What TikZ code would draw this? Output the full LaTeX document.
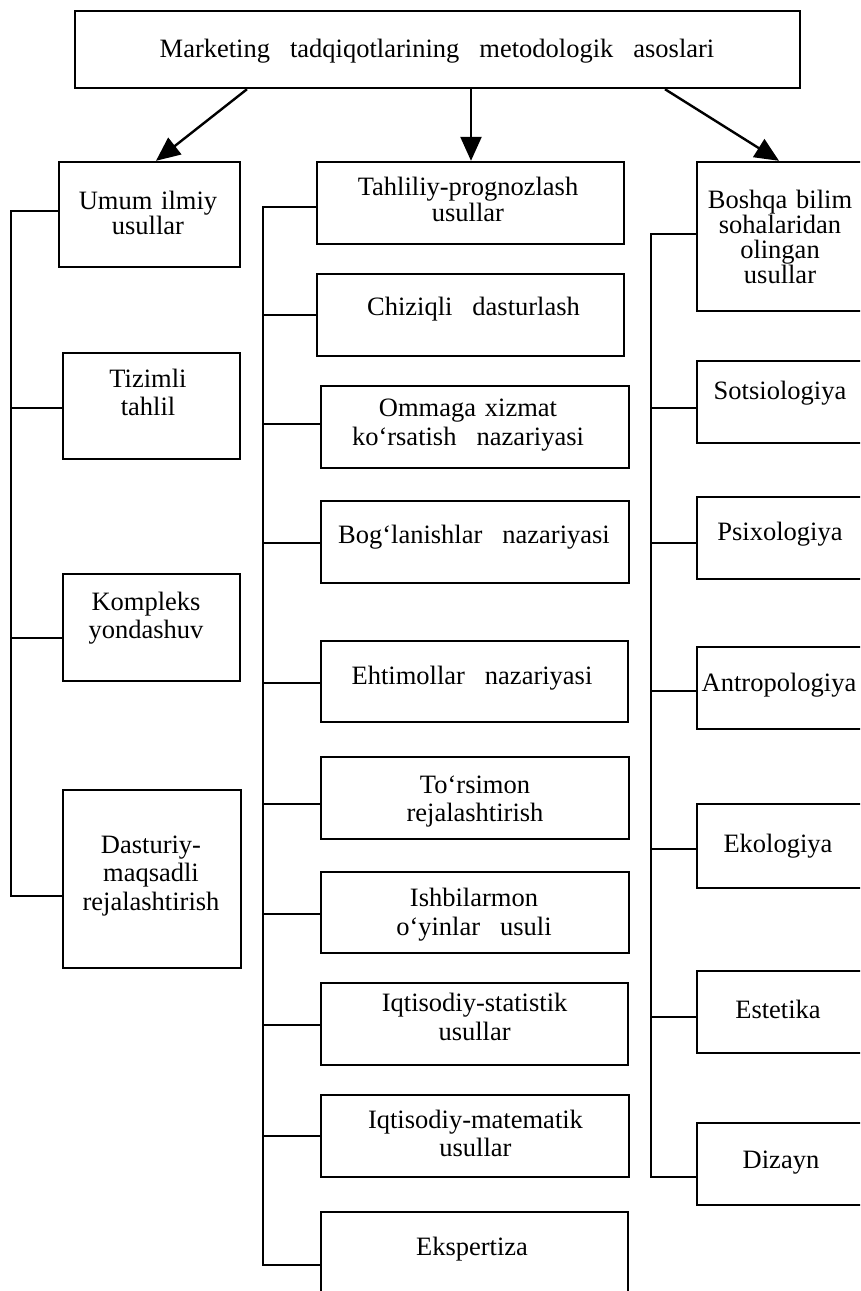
\documentclass[tikz,border=0pt]{standalone}
\usepackage{fontspec}
\setmainfont{Liberation Serif}
\usetikzlibrary{arrows.meta}
\newcommand{\wg}{\hspace{20pt}}
\begin{document}
\begin{tikzpicture}[x=1pt,y=-1pt,
  bx/.style={draw, line width=2.4pt, inner sep=0pt, rectangle},
  ln/.style={line width=2.4pt},
  arr/.style={line width=2.4pt, -{Triangle[length=24pt,width=21pt]}},
  txt/.style={inner sep=0pt, anchor=base, align=center, text width=320pt, font=\fontsize{26.5}{28.5}\selectfont},
  txs/.style={txt, font=\fontsize{26.5}{25}\selectfont},
]
\useasboundingbox (0,0) rectangle (860,1291);
\clip (0,0) rectangle (860,1291);

% boxes
\node[bx, minimum width=725pt, minimum height=77pt] (top) at (437.5,49.5) {};
% left column
\node[bx, minimum width=181pt, minimum height=105pt] (umum) at (149.5,214.5) {};
\node[bx, minimum width=177pt, minimum height=106pt] (tiz) at (151.5,406) {};
\node[bx, minimum width=177pt, minimum height=107pt] (komp) at (151.5,627.5) {};
\node[bx, minimum width=178pt, minimum height=178pt] (dast) at (152,879) {};
% middle column
\node[bx, minimum width=307pt, minimum height=82pt] (tah) at (470.5,203) {};
\node[bx, minimum width=307pt, minimum height=82pt] (chiz) at (470.5,315) {};
\node[bx, minimum width=308pt, minimum height=82pt] (omm) at (475,427) {};
\node[bx, minimum width=308pt, minimum height=82pt] (bog) at (475,542) {};
\node[bx, minimum width=307pt, minimum height=81pt] (eht) at (474.5,681.5) {};
\node[bx, minimum width=308pt, minimum height=82pt] (tor) at (475,798) {};
\node[bx, minimum width=308pt, minimum height=81pt] (ish) at (475,912.5) {};
\node[bx, minimum width=307pt, minimum height=82pt] (iqs) at (474.5,1024) {};
\node[bx, minimum width=308pt, minimum height=82pt] (iqm) at (475,1136) {};
\node[bx, minimum width=307pt, minimum height=98pt] (eks) at (474.5,1261) {};
% right column
\node[bx, minimum width=183pt, minimum height=149pt] (bosh) at (788.5,236.5) {};
\node[bx, minimum width=183pt, minimum height=82pt] (sots) at (788.5,402) {};
\node[bx, minimum width=183pt, minimum height=82pt] (psix) at (788.5,538) {};
\node[bx, minimum width=183pt, minimum height=82pt] (antr) at (788.5,688) {};
\node[bx, minimum width=183pt, minimum height=84pt] (ekol) at (788.5,846) {};
\node[bx, minimum width=183pt, minimum height=82pt] (este) at (788.5,1012) {};
\node[bx, minimum width=183pt, minimum height=82pt] (diz) at (788.5,1164) {};

% texts
\node[txt, text width=700pt] (ttop) at (437,57) {Marketing\wg tadqiqotlarining\wg metodologik\wg asoslari};
\node[txs] (tumum) at (148,209) {Umum ilmiy\\usullar};
\node[txt] (ttiz) at (148,387) {Tizimli\\tahlil};
\node[txt] (tkomp) at (146,610) {Kompleks\\yondashuv};
\node[txt] (tdast) at (151,853) {Dasturiy-\\maqsadli\\rejalashtirish};
\node[txs, font=\fontsize{26.5}{26.5}\selectfont] (ttah) at (468,195) {Tahliliy-prognozlash\\usullar};
\node[txt] (tchiz) at (473.5,315) {Chiziqli\wg dasturlash};
\node[txt] (tomm) at (468,416.7) {Ommaga xizmat\\ko‘rsatish\wg nazariyasi};
\node[txt] (tbog) at (474,543) {Bog‘lanishlar\wg nazariyasi};
\node[txt] (teht) at (472,684) {Ehtimollar\wg nazariyasi};
\node[txt] (ttor) at (475,793) {To‘rsimon\\rejalashtirish};
\node[txt] (tish) at (474,906.7) {Ishbilarmon\\o‘yinlar\wg usuli};
\node[txt] (tiqs) at (474.6,1011.7) {Iqtisodiy-statistik\\usullar};
\node[txt] (tiqm) at (475.5,1128) {Iqtisodiy-matematik\\usullar};
\node[txt] (teks) at (472,1255) {Ekspertiza};
\node[txs] (tbosh) at (780,208) {Boshqa bilim\\sohalaridan\\olingan\\usullar};
\node[txt] (tsots) at (780,399) {Sotsiologiya};
\node[txt] (tpsix) at (780,540) {Psixologiya};
\node[txt] (tantr) at (779,691) {Antropologiya};
\node[txt] (tekol) at (778,852) {Ekologiya};
\node[txt] (teste) at (778,1018) {Estetika};
\node[txt] (tdiz) at (781,1168) {Dizayn};

% arrows from the top box
\draw[arr] (top.south -| 247,0) -- (umum.north -| 156,0);
\draw[arr] (top.south -| 471,0) -- (tah.north -| 471,0);
\draw[arr] (top.south -| 665,0) -- (bosh.north -| 779,0);

% bus coordinates
\coordinate (L1) at (11,211);
\coordinate (L2) at (11,408);
\coordinate (L3) at (11,638);
\coordinate (L4) at (11,896);
\coordinate (M1) at (263,207);
\coordinate (M2) at (263,315);
\coordinate (M3) at (263,424);
\coordinate (M4) at (263,543);
\coordinate (M5) at (263,683);
\coordinate (M6) at (263,804);
\coordinate (M7) at (263,914);
\coordinate (M8) at (263,1025);
\coordinate (M9) at (263,1136);
\coordinate (M10) at (263,1265);
\coordinate (R1) at (651,234);
\coordinate (R2) at (651,408);
\coordinate (R3) at (651,543);
\coordinate (R4) at (651,691);
\coordinate (R5) at (651,849);
\coordinate (R6) at (651,1017);
\coordinate (R7) at (651,1177);

% left bus
\draw[ln] (L1 -| umum.west) -- (L1) -- (L4) -- (L4 -| dast.west);
\draw[ln] (L2) -- (L2 -| tiz.west);
\draw[ln] (L3) -- (L3 -| komp.west);
% middle bus
\draw[ln] (M1 -| tah.west) -- (M1) -- (M10) -- (M10 -| eks.west);
\draw[ln] (M2) -- (M2 -| chiz.west);
\draw[ln] (M3) -- (M3 -| omm.west);
\draw[ln] (M4) -- (M4 -| bog.west);
\draw[ln] (M5) -- (M5 -| eht.west);
\draw[ln] (M6) -- (M6 -| tor.west);
\draw[ln] (M7) -- (M7 -| ish.west);
\draw[ln] (M8) -- (M8 -| iqs.west);
\draw[ln] (M9) -- (M9 -| iqm.west);
% right bus
\draw[ln] (R1 -| bosh.west) -- (R1) -- (R7) -- (R7 -| diz.west);
\draw[ln] (R2) -- (R2 -| sots.west);
\draw[ln] (R3) -- (R3 -| psix.west);
\draw[ln] (R4) -- (R4 -| antr.west);
\draw[ln] (R5) -- (R5 -| ekol.west);
\draw[ln] (R6) -- (R6 -| este.west);
\end{tikzpicture}
\end{document}
